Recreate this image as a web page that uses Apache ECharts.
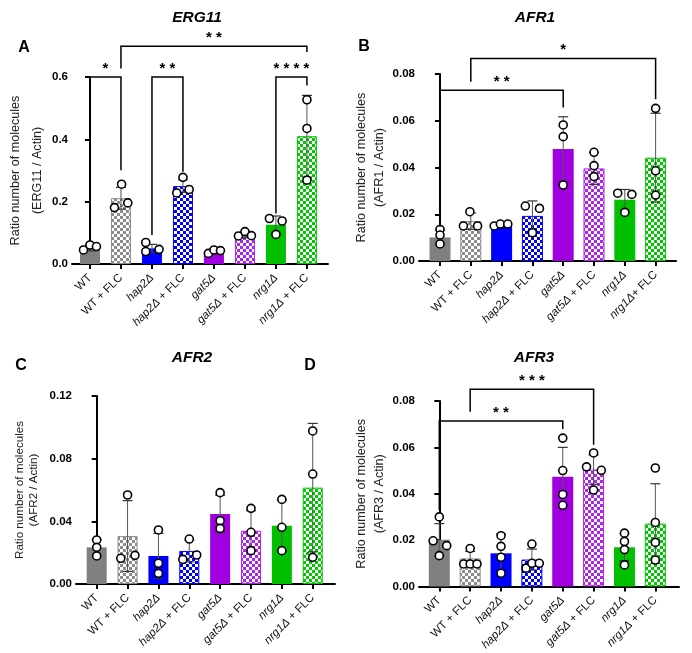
<!DOCTYPE html>
<html><head><meta charset="utf-8">
<script src="https://cdn.jsdelivr.net/npm/echarts@6/dist/echarts.min.js"></script>
<style>html,body{margin:0;padding:0;background:#fff}#c{width:692px;height:653px}</style>
</head><body><div id="c"></div>
<script>
// ---------- data ----------
const categories = ['WT','WT + FLC','hap2Δ','hap2Δ + FLC','gat5Δ','gat5Δ + FLC','nrg1Δ','nrg1Δ + FLC'];
const categoriesAFR1 = ['WT','WT + FLC','hap2Δ','hap2Δ + FLC','gat5Δ','gat5Δ + FLC','nrg1Δ','nrg1Δ+ FLC'];

const erg11Mean = [0.052,0.211,0.050,0.250,0.038,0.092,0.126,0.410];
const erg11SD   = [0.010,0.035,0.013,0.020,0.006,0.008,0.028,0.131];
const erg11Points = [[0.045,0.061,0.056],[0.181,0.256,0.196],[0.069,0.040,0.047],[0.228,0.278,0.239],[0.034,0.045,0.043],[0.090,0.104,0.091],[0.146,0.095,0.138],[0.527,0.435,0.269]];

const afr1Mean = [0.0101,0.0171,0.0158,0.0193,0.0479,0.0396,0.0262,0.0442];
const afr1SD   = [0.0032,0.0035,0.0005,0.0064,0.0138,0.0068,0.0044,0.0190];
const afr1Points = [[0.0135,0.0111,0.0073],[0.0150,0.0211,0.0150],[0.0150,0.0158,0.0158],[0.0235,0.0225,0.0121],[0.0582,0.0532,0.0325],[0.0465,0.0408,0.0361],[0.0290,0.0285,0.0208],[0.0653,0.0386,0.0282]];

const afr2Mean = [0.0234,0.0306,0.0179,0.0211,0.0447,0.0340,0.0372,0.0615];
const afr2SD   = [0.0050,0.0226,0.0144,0.0070,0.0120,0.0128,0.0165,0.0410];
const afr2Points = [[0.0281,0.0234,0.0179],[0.0568,0.0164,0.0183],[0.0345,0.0132,0.0068],[0.0287,0.0157,0.0185],[0.0583,0.0404,0.0355],[0.0483,0.0330,0.0213],[0.0540,0.0362,0.0213],[0.0977,0.0702,0.0170]];

const afr3Mean = [0.0201,0.0121,0.0143,0.0116,0.0473,0.0504,0.0169,0.0271];
const afr3SD   = [0.0070,0.0030,0.0083,0.0045,0.0127,0.0063,0.0058,0.0172];
const afr3Points = [[0.0300,0.0197,0.0176,0.0133],[0.0097,0.0097,0.0097,0.0164],[0.0219,0.0173,0.0126,0.0057],[0.0183,0.0079,0.0100,0.0100],[0.0640,0.0500,0.0397,0.0350],[0.0516,0.0576,0.0501,0.0416],[0.0230,0.0194,0.0159,0.0093],[0.0511,0.0276,0.0190,0.0114]];

// significance brackets: [from, to, barY, leftLegEnd, rightLegEnd]
const erg11Brackets = [[0,1,0.600,0.098,0.301],[2,3,0.600,0.093,0.296],[6,7,0.600,0.162,0.573],[1,7,0.699,0.627,0.680]];
const erg11Stars = ['*','**','****','**'];
const afr1Brackets = [[0,4,0.0731,0.0147,0.0657],[1,7,0.0866,0.0767,0.0692]];
const afr1Stars = ['**','*'];
const afr3Brackets = [[0,4,0.0714,0.0330,0.0679],[1,5,0.0851,0.0754,0.0611]];
const afr3Stars = ['**','***'];

const yTicksERG11 = [0, 0.6, 0.2];
const yTicksAFR1 = [0, 0.08, 0.02];
const yTicksAFR2 = [0, 0.12, 0.04];
const yTicksAFR3 = [0, 0.08, 0.02];

// ---------- layout / style (not data) ----------
const erg11Jitter = [[-0.21,0,0.21],[-0.21,0.02,0.22],[-0.2,-0.2,0.23],[-0.2,0,0.2],[-0.18,0,0.21],[-0.21,0,0.21],[-0.21,0,0.2],[0,0,0]];
const afr1Jitter = [[0,0,0],[-0.24,-0.03,0.22],[-0.24,-0.04,0.2],[-0.23,0.23,0],[0,0,0],[0,0,0],[-0.23,0.23,0],[0,0,0]];
const afr2Jitter = [[0,0,0],[0,-0.22,0.24],[0,0,0],[0,-0.21,0.24],[0,0,0],[0,0,0],[0,0,0],[0,0,0]];
const afr3Jitter = [[0,-0.2,0.24,0],[-0.21,0,0.22,0],[0,0,0,0],[0,-0.19,0,0.24],[0,0,0,0],[-0.23,0,0.25,0],[0,0,0,0],[0,0,0,0]];

const baseColors = ['#808080','#8c8c8c','#0000ff','#0000ff','#a000e0','#b020ee','#00c000','#00c800'];
const isFLC = [false,true,false,true,false,true,false,true];
const FONT = 'Liberation Sans, Arial, sans-serif';

function checker(color){
  const c = document.createElement('canvas');
  c.width = 6; c.height = 6;
  const g = c.getContext('2d');
  g.fillStyle = '#ffffff'; g.fillRect(0,0,6,6);
  g.fillStyle = color; g.fillRect(0,0,3,3); g.fillRect(3,3,3,3);
  return {image: c, repeat: 'repeat'};
}

const panels = [
  {cats: categories, mean: erg11Mean, sd: erg11SD, pts: erg11Points, jit: erg11Jitter, br: erg11Brackets, stars: erg11Stars,
   yt: yTicksERG11, dec: 1, grid:{left:72, top:77, width:256, height:187}, xr:[-0.58,7.68], bw:20,
   name:'Ratio number of molecules\n(ERG11 / Actin)', nameGap:16, lh:22, nfs:12.6},
  {cats: categoriesAFR1, mean: afr1Mean, sd: afr1SD, pts: afr1Points, jit: afr1Jitter, br: afr1Brackets, stars: afr1Stars,
   yt: yTicksAFR1, dec: 2, grid:{left:419, top:74, width:257, height:187}, xr:[-0.682,7.662], bw:21,
   name:'Ratio number of molecules\n(AFR1 / Actin)', nameGap:31, lh:17.5, nfs:12.6},
  {cats: categories, mean: afr2Mean, sd: afr2SD, pts: afr2Points, jit: afr2Jitter, br: [], stars: [],
   yt: yTicksAFR2, dec: 2, grid:{left:76, top:396, width:259, height:188}, xr:[-0.671,7.722], bw:20,
   name:'Ratio number of molecules\n(AFR2 / Actin)', nameGap:35, lh:14, nfs:11.6},
  {cats: categories, mean: afr3Mean, sd: afr3SD, pts: afr3Points, jit: afr3Jitter, br: afr3Brackets, stars: afr3Stars,
   yt: yTicksAFR3, dec: 2, grid:{left:419, top:401, width:260, height:187}, xr:[-0.658,7.767], bw:21,
   name:'Ratio number of molecules\n(AFR3 / Actin)', nameGap:29, lh:18, nfs:12.6}
];

const grids = [], xAxes = [], yAxes = [], series = [];
const ticks = [0,1,2,3,4,5,6,7];

panels.forEach((p, k) => {
  grids.push(Object.assign({containLabel:false}, p.grid));
  xAxes.push({
    type:'value', gridIndex:k, min:p.xr[0], max:p.xr[1],
    axisLine:{show:true, onZero:false, lineStyle:{color:'#000', width:2}},
    axisTick:{show:true, customValues:ticks, length:5, lineStyle:{color:'#000', width:2}},
    axisLabel:{show:true, customValues:ticks, rotate:45, margin:12, fontFamily:FONT, fontSize:11.5, color:'#111',
      formatter:(v)=>{
        const s = p.cats[Math.round(v)];
        if (!s) return '';
        const m = s.match(/^([a-z0-9]+Δ)(.*)$/);
        if (m) return '{i|' + m[1] + '}' + (m[2] ? '{n|' + m[2] + '}' : '');
        return '{n|' + s + '}';
      },
      rich:{i:{fontStyle:'italic', fontFamily:FONT, fontSize:11.5, color:'#111'}, n:{fontFamily:FONT, fontSize:11.5, color:'#111'}}
    },
    splitLine:{show:false}
  });
  yAxes.push({
    type:'value', gridIndex:k, min:p.yt[0], max:p.yt[1], interval:p.yt[2],
    axisLine:{show:true, lineStyle:{color:'#000', width:2}},
    axisTick:{show:true, length:5, lineStyle:{color:'#000', width:2}},
    axisLabel:{fontFamily:FONT, fontSize:11.5, fontWeight:'bold', color:'#000', margin:4,
      formatter:(v)=>v.toFixed(p.dec)},
    splitLine:{show:false},
    name:p.name, nameLocation:'middle', nameRotate:90, nameGap:p.nameGap,
    nameTextStyle:{fontFamily:FONT, fontSize:p.nfs, color:'#222', lineHeight:p.lh}
  });
  // bars
  series.push({
    type:'bar', xAxisIndex:k, yAxisIndex:k, barWidth:p.bw, z:2,
    data:p.mean.map((v,i)=>({value:[i,v], itemStyle: isFLC[i]
      ? {color:checker(baseColors[i]), borderColor:baseColors[i], borderWidth:1}
      : {color:baseColors[i]}})),
    animation:false
  });
  // error bars
  series.push({
    type:'custom', xAxisIndex:k, yAxisIndex:k, z:3, clip:false,
    data:p.mean.map((v,i)=>[i, v - p.sd[i], v + p.sd[i]]),
    renderItem:(params, api)=>{
      const x = api.value(0);
      const lo = api.coord([x, api.value(1)]);
      const hi = api.coord([x, api.value(2)]);
      const w = 5;
      return {type:'group', children:[
        {type:'line', shape:{x1:lo[0], y1:lo[1], x2:hi[0], y2:hi[1]}, style:{stroke:'#555', lineWidth:1}},
        {type:'line', shape:{x1:hi[0]-w, y1:hi[1], x2:hi[0]+w, y2:hi[1]}, style:{stroke:'#333', lineWidth:1.2}},
        {type:'line', shape:{x1:lo[0]-w, y1:lo[1], x2:lo[0]+w, y2:lo[1]}, style:{stroke:'#333', lineWidth:1.2}}
      ]};
    },
    animation:false
  });
  // points
  const pd = [];
  p.pts.forEach((arr,i)=>arr.forEach((v,j)=>pd.push([i + p.jit[i][j], v])));
  series.push({
    type:'scatter', xAxisIndex:k, yAxisIndex:k, z:4, symbol:'circle', symbolSize:8,
    itemStyle:{color:'#fff', borderColor:'#000', borderWidth:1.6, opacity:1},
    data:pd, animation:false
  });
  // brackets
  if (p.br.length) {
    series.push({
      type:'custom', xAxisIndex:k, yAxisIndex:k, z:5, clip:false,
      data:p.br,
      renderItem:(params, api)=>{
        const x1 = api.value(0), x2 = api.value(1), yb = api.value(2);
        const a = api.coord([x1, api.value(3)]);
        const b = api.coord([x1, yb]);
        const c = api.coord([x2, yb]);
        const d = api.coord([x2, api.value(4)]);
        return {type:'group', children:[
          {type:'polyline', shape:{points:[a,b,c,d]}, style:{stroke:'#000', lineWidth:1.5, fill:null}},
          {type:'text', x:(b[0]+c[0])/2, y:b[1]-8.5,
           style:{text:p.stars[params.dataIndex].split('').join(' '), font:'bold 15px ' + FONT, fill:'#000', align:'center', verticalAlign:'middle'}}
        ]};
      },
      animation:false
    });
  }
});

const titles = [['ERG11',197,17.5],['AFR1',535,18],['AFR2',192,357.5],['AFR3',534,358]];
const letters = [['A',24,47.5],['B',364,47],['C',21,366],['D',310,366]];
const graphics = [];
titles.forEach(t=>graphics.push({type:'text', x:t[1], y:t[2], style:{text:t[0], font:'italic bold 15.5px ' + FONT, fill:'#000', align:'center', verticalAlign:'middle'}}));
letters.forEach(t=>graphics.push({type:'text', x:t[1], y:t[2], style:{text:t[0], font:'bold 16px ' + FONT, fill:'#000', align:'center', verticalAlign:'middle'}}));

const chart = echarts.init(document.getElementById('c'), null, {renderer:'canvas'});
chart.setOption({
  backgroundColor:'#fff', animation:false,
  grid:grids, xAxis:xAxes, yAxis:yAxes, series:series, graphic:graphics
});
</script></body></html>
